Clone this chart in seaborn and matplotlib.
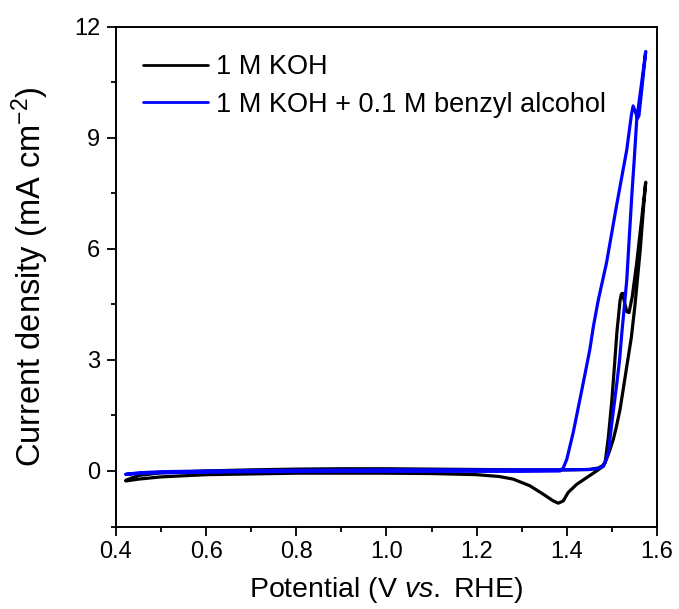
import numpy as np
import pandas as pd
import matplotlib
matplotlib.use("Agg")
import matplotlib.pyplot as plt
from matplotlib.ticker import MultipleLocator
import seaborn as sns

# ---- data ----
koh_potential = [0.422, 0.45, 0.5, 0.6, 0.7, 0.8, 0.9, 1.0, 1.1, 1.2, 1.3, 1.4, 1.45, 1.47,
                 1.48, 1.485, 1.492, 1.50, 1.506, 1.511, 1.518, 1.521, 1.524, 1.528, 1.533,
                 1.538, 1.545, 1.555, 1.565, 1.575,
                 1.57, 1.563, 1.556, 1.551, 1.543, 1.533, 1.525, 1.518, 1.51, 1.503, 1.495,
                 1.488, 1.481, 1.466, 1.444, 1.422, 1.403, 1.392, 1.381, 1.37, 1.348, 1.318,
                 1.281, 1.25, 1.2, 1.1, 1.0, 0.9, 0.8, 0.7, 0.6, 0.5, 0.45, 0.422]
koh_current = [-0.25, -0.12, -0.05, 0.0, 0.03, 0.05, 0.06, 0.06, 0.05, 0.04, 0.03, 0.03, 0.04, 0.08,
               0.15, 0.23, 0.9, 1.93, 2.9, 3.74, 4.6, 4.78, 4.8, 4.55, 4.3,
               4.28, 4.7, 5.62, 6.7, 7.8,
               7.1, 6.0, 5.1, 4.46, 3.6, 2.83, 2.2, 1.66, 1.2, 0.85, 0.55,
               0.32, 0.13, 0.0, -0.18, -0.36, -0.58, -0.81, -0.87, -0.81, -0.63, -0.4,
               -0.22, -0.15, -0.1, -0.07, -0.06, -0.06, -0.06, -0.08, -0.1, -0.16, -0.22, -0.27]

ba_potential = [0.422, 0.45, 0.5, 0.6, 0.8, 1.0, 1.2, 1.4, 1.45, 1.47, 1.481, 1.487, 1.492,
                1.499, 1.505, 1.511, 1.517, 1.522, 1.529, 1.533, 1.538, 1.544, 1.55, 1.555,
                1.565, 1.575,
                1.567, 1.56, 1.557, 1.552, 1.547, 1.543, 1.533, 1.51, 1.488, 1.47, 1.459,
                1.451, 1.44, 1.429, 1.414, 1.40, 1.392, 1.385, 1.3, 1.1, 0.9, 0.7, 0.5,
                0.45, 0.422]
ba_current = [-0.09, -0.05, -0.02, 0.0, 0.02, 0.03, 0.03, 0.03, 0.04, 0.07, 0.13, 0.3, 0.5,
              1.21, 1.8, 2.38, 3.0, 3.73, 4.63, 5.17, 6.2, 7.42, 8.5, 9.49,
              10.4, 11.33,
              10.4, 9.6, 9.53, 9.7, 9.86, 9.6, 8.68, 7.15, 5.62, 4.63, 3.91,
              3.28, 2.6, 1.93, 1.03, 0.32, 0.08, 0.0, -0.01, -0.01, -0.01, -0.02, -0.05,
              -0.07, -0.09]

labels = ["1 M KOH", "1 M KOH + 0.1 M benzyl alcohol"]
colors = ["#000000", "#0000FF"]

x_ticks = [0.4, 0.6, 0.8, 1.0, 1.2, 1.4, 1.6]
y_ticks = [0, 3, 6, 9, 12]

# ---- style ----
sns.set_theme(style="ticks")
plt.rcParams["font.family"] = ["Liberation Sans", "DejaVu Sans"]
plt.rcParams["mathtext.fontset"] = "custom"
plt.rcParams["mathtext.rm"] = "Liberation Sans"
plt.rcParams["mathtext.it"] = "Liberation Sans:italic"
plt.rcParams["text.color"] = "black"

fig = plt.figure(figsize=(6.79, 6.09), dpi=100)
ax = fig.add_axes([116 / 679, 1 - 526.5 / 609, (657 - 116) / 679, (526.5 - 26.7) / 609])

df_koh = pd.DataFrame({"Potential": koh_potential, "Current": koh_current})
df_ba = pd.DataFrame({"Potential": ba_potential, "Current": ba_current})

sns.lineplot(data=df_koh, x="Potential", y="Current", sort=False, estimator=None,
             color=colors[0], lw=2.3, label=labels[0], ax=ax)
sns.lineplot(data=df_ba, x="Potential", y="Current", sort=False, estimator=None,
             color=colors[1], lw=2.3, label=labels[1], ax=ax)

ax.set_xlim(0.4, 1.6)
ax.set_ylim(-1.5, 12)
ax.set_xticks(x_ticks)
ax.set_xticklabels([f"{v:.1f}" for v in x_ticks])
ax.set_yticks(y_ticks)
ax.xaxis.set_minor_locator(MultipleLocator(0.1))
ax.yaxis.set_minor_locator(MultipleLocator(1.5))
ax.tick_params(which="major", direction="out", length=6.5, width=1.3, labelsize=17,
               color="black", labelcolor="black")
ax.tick_params(axis="x", which="major", pad=4)
ax.tick_params(axis="y", which="major", pad=5)
ax.tick_params(which="minor", direction="out", length=3.3, width=1.3, color="black")
for s in ax.spines.values():
    s.set_linewidth(1.4)
    s.set_color("black")
    s.set_visible(True)

ax.set_xlabel(r"Potential (V $\it{vs.}$ RHE)", fontsize=20.5, color="black")
ax.set_ylabel(r"Current density (mA cm$^{-2}$)", fontsize=23.5, color="black")
ax.xaxis.set_label_coords(0.5, -0.097)
ax.xaxis.label.set_va("top")
ax.yaxis.set_label_coords(-0.12, 0.5)

leg = ax.legend(loc="upper left", frameon=False, fontsize=19.5, handlelength=2.4,
                handletextpad=0.3, labelspacing=0.42, bbox_to_anchor=(0.05, 0.945),
                borderaxespad=0.0, borderpad=0.0)
for line in leg.get_lines():
    line.set_linewidth(2.0)
for t in leg.get_texts():
    t.set_color("black")

fig.savefig("out.png", dpi=100)
